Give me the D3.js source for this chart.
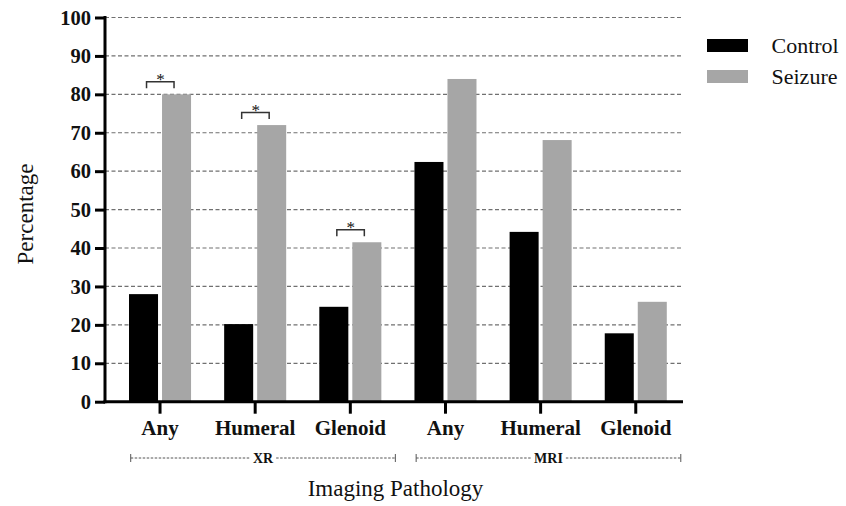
<!DOCTYPE html>
<html>
<head>
<meta charset="utf-8">
<script src="https://cdn.jsdelivr.net/npm/d3@7"></script>
</head>
<body style="margin:0">
<svg id="fig" width="846" height="506"></svg>
<script>
// ---- data ----
const categories = ["Any", "Humeral", "Glenoid", "Any", "Humeral", "Glenoid"];
const seriesNames = ["Control", "Seizure"];
const controlValues = [28, 20.2, 24.7, 62.4, 44.2, 17.8];
const seizureValues = [80, 72, 41.5, 84, 68.1, 26];
const significant = [true, true, true, false, false, false];
const groupNames = ["XR", "MRI"];
const groupStart = [0, 3];
const groupEnd = [2, 5];
const yTicks = [0, 10, 20, 30, 40, 50, 60, 70, 80, 90, 100];
const xTitle = "Imaging Pathology";
const yTitle = "Percentage";

const colors = { Control: "#000000", Seizure: "#a6a6a6" };
const FONT = "Liberation Serif";
const TXT = "#111";

const svg = d3.select("#fig").style("font-family", FONT);

const y = d3.scaleLinear().domain([0, 100]).range([401.7, 17.5]);
const x0 = d3.scaleBand()
  .domain(d3.range(categories.length))
  .range([95.9, 699.9])
  .paddingInner(0.348)
  .paddingOuter(0.348);
const x1 = d3.scaleBand()
  .domain(seriesNames)
  .range([0, x0.bandwidth()])
  .paddingInner(0.121);

const axisLeft = 105, axisRight = 683;

// gridlines
svg.append("g").selectAll("line")
  .data(yTicks.filter(d => d > 0))
  .join("line")
  .attr("x1", axisLeft).attr("x2", axisRight)
  .attr("y1", d => y(d)).attr("y2", d => y(d))
  .attr("stroke", "#707070")
  .attr("stroke-width", 1.2)
  .attr("stroke-dasharray", "4,2.5");

// bars
const rows = categories.map((c, i) => ({ i, Control: controlValues[i], Seizure: seizureValues[i] }));
svg.append("g").selectAll("g")
  .data(rows)
  .join("g")
  .attr("transform", d => `translate(${x0(d.i)},0)`)
  .selectAll("rect")
  .data(d => seriesNames.map(s => ({ s, v: d[s] })))
  .join("rect")
  .attr("x", d => x1(d.s))
  .attr("width", x1.bandwidth())
  .attr("y", d => y(d.v))
  .attr("height", d => y(0) - y(d.v))
  .attr("fill", d => colors[d.s]);

// y axis
const yAxis = d3.axisLeft(y).tickValues(yTicks).tickSize(10).tickPadding(4);
const gy = svg.append("g").attr("transform", `translate(${axisLeft},0)`).call(yAxis)
  .attr("font-family", FONT).attr("font-size", 20.5);
gy.select(".domain").remove();
gy.selectAll(".tick line").attr("stroke", "#000").attr("stroke-width", 3);
gy.selectAll(".tick text")
  .attr("font-family", FONT)
  .attr("font-size", 20.5).attr("font-weight", "bold").attr("fill", TXT);
svg.append("line")
  .attr("x1", axisLeft).attr("x2", axisLeft)
  .attr("y1", y(100) - 1.5).attr("y2", y(0) + 1.5)
  .attr("stroke", "#000").attr("stroke-width", 3);

// x axis
const xAxis = d3.axisBottom(x0).tickSize(12).tickFormat(i => categories[i]);
const gx = svg.append("g").attr("transform", `translate(0,${y(0)})`).call(xAxis)
  .attr("font-family", FONT).attr("font-size", 21);
gx.select(".domain").remove();
gx.selectAll(".tick line").attr("stroke", "#000").attr("stroke-width", 3);
gx.selectAll(".tick text")
  .attr("font-family", FONT)
  .attr("font-size", 21).attr("font-weight", "bold").attr("fill", TXT)
  .attr("y", 33.5).attr("dy", 0);
svg.append("line")
  .attr("x1", axisLeft - 1.5).attr("x2", axisRight)
  .attr("y1", y(0)).attr("y2", y(0))
  .attr("stroke", "#000").attr("stroke-width", 3);

// significance brackets
const gSig = svg.append("g");
rows.filter(d => significant[d.i]).forEach(d => {
  const cx = x0(d.i) + x0.bandwidth() / 2;
  const top = y(d.Seizure) - 12.5;
  const leg = y(d.Seizure) - 6;
  const l = cx - 13.5, r = cx + 14;
  gSig.append("path")
    .attr("d", `M${l},${leg}V${top}H${r}V${leg}`)
    .attr("fill", "none").attr("stroke", "#333").attr("stroke-width", 1.5);
  gSig.append("text")
    .attr("x", cx + 0.5).attr("y", top + 3.5)
    .attr("text-anchor", "middle")
    .attr("font-family", FONT).attr("font-size", 17).attr("fill", TXT)
    .text("*");
});

// group brackets (XR / MRI)
const gGrp = svg.append("g");
const gy0 = 458;
groupNames.forEach((name, k) => {
  const left = x0(groupStart[k]) + 1.7;
  const right = x0(groupEnd[k]) + x0.bandwidth() + 14;
  const mid = (left + right) / 2;
  const t = gGrp.append("text")
    .attr("x", mid).attr("y", gy0 + 5)
    .attr("text-anchor", "middle")
    .attr("font-family", FONT).attr("font-size", 14).attr("font-weight", "bold").attr("fill", TXT)
    .text(name);
  const w = t.node().getComputedTextLength();
  const gap = w / 2 + 3;
  [[left, mid - gap], [mid + gap, right]].forEach(([a, b]) => {
    gGrp.append("line")
      .attr("x1", a).attr("x2", b).attr("y1", gy0).attr("y2", gy0)
      .attr("stroke", "#555").attr("stroke-width", 1)
      .attr("stroke-dasharray", "2.5,1.5");
  });
  [left, right].forEach(xx => {
    gGrp.append("line")
      .attr("x1", xx).attr("x2", xx).attr("y1", gy0 - 4).attr("y2", gy0 + 4)
      .attr("stroke", "#555").attr("stroke-width", 1);
  });
});

// axis titles
svg.append("text")
  .attr("x", 395.5).attr("y", 495.5)
  .attr("text-anchor", "middle")
  .attr("font-family", FONT).attr("font-size", 23).attr("fill", TXT)
  .text(xTitle);
svg.append("text")
  .attr("transform", "translate(32.5,214) rotate(-90)")
  .attr("text-anchor", "middle")
  .attr("font-family", FONT).attr("font-size", 23).attr("fill", TXT)
  .text(yTitle);

// legend
const legend = svg.append("g").selectAll("g")
  .data(seriesNames)
  .join("g")
  .attr("transform", (d, i) => `translate(707,${39 + i * 31})`);
legend.append("rect")
  .attr("width", 41).attr("height", 13)
  .attr("fill", d => colors[d]);
legend.append("text")
  .attr("x", 64.5).attr("y", 14.3)
  .attr("font-family", FONT).attr("font-size", 22).attr("fill", TXT)
  .text(d => d);
</script>
</body>
</html>
